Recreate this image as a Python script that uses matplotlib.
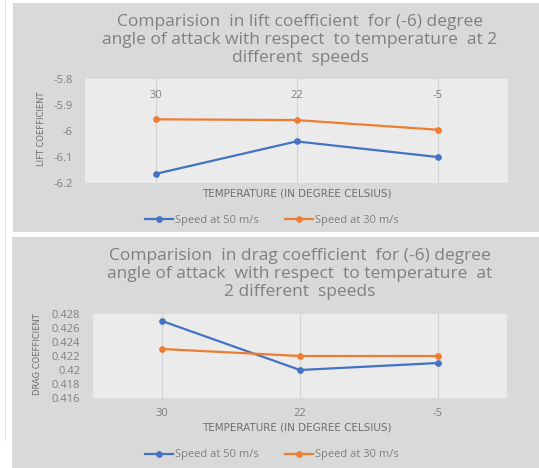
#!/usr/bin/env python3
"""
升力/阻力系数随温度变化对比图 (两种速度)
"""

import matplotlib.pyplot as plt
from matplotlib.patches import Rectangle
from matplotlib.lines import Line2D

plt.rcParams['font.family'] = ['Open Sans', 'DejaVu Sans']

# 数据
temperatures = ['30', '22', '-5']
lift_50 = [-6.165, -6.04, -6.10]
lift_30 = [-5.955, -5.958, -5.995]
drag_50 = [0.427, 0.420, 0.421]
drag_30 = [0.423, 0.422, 0.422]
series_labels = ['Speed at 50 m/s', 'Speed at 30 m/s']

lift_title = ('Comparision  in lift coefficient  for (-6) degree\n'
              'angle of attack with respect  to temperature  at 2\n'
              'different  speeds')
drag_title = ('Comparision  in drag coefficient  for (-6) degree\n'
              'angle of attack  with respect  to temperature  at\n'
              '2 different  speeds')

BLUE = '#4472C4'
ORANGE = '#ED7D31'
TEXT = '#808080'
PANEL = '#d9d9d9'
PLOT_BG = '#ebebeb'
NARROW = ['Liberation Sans Narrow', 'DejaVu Sans']

W, H = 539, 468
fig = plt.figure(figsize=(W / 100, H / 100), dpi=100)
fig.patch.set_facecolor('white')


def fx(px):
    return px / W


def fy(py):
    return 1 - py / H


# 两个图表背景面板
fig.add_artist(Rectangle((fx(13), fy(232)), fx(W - 13), 229 / H,
                         transform=fig.transFigure, facecolor=PANEL,
                         edgecolor='none', zorder=0))
fig.add_artist(Rectangle((fx(12), 0), fx(W - 12), 231 / H,
                         transform=fig.transFigure, facecolor=PANEL,
                         edgecolor='none', zorder=0))

# 左侧残留的坐标线
fig.add_artist(Line2D([fx(5), fx(5)], [fy(0), fy(440)],
                      transform=fig.transFigure, color='#e4e4e4', lw=0.8))


def style_axes(ax):
    ax.set_facecolor(PLOT_BG)
    for s in ax.spines.values():
        s.set_visible(False)
    ax.set_xlim(-0.5, 2.5)
    ax.grid(axis='x', color='#d2d2d2', lw=0.8)
    ax.set_axisbelow(True)
    ax.tick_params(axis='y', length=0, labelsize=8, labelcolor=TEXT, pad=9)


def add_legend(ax, y_px):
    ax.legend(series_labels, loc='center', ncol=2, frameon=False,
              bbox_to_anchor=(fx(272), fy(y_px)),
              bbox_transform=fig.transFigure, fontsize=8, labelcolor=TEXT,
              handlelength=2.5, columnspacing=2.3, handletextpad=0.2)


def side_text(x_px, y_px, s, size, rot=0):
    fig.text(fx(x_px), fy(y_px), s, ha='center', va='center', rotation=rot,
             fontsize=size, color='#6f6f6f', family=NARROW)


# 升力系数图
ax1 = fig.add_axes([fx(85), fy(183), fx(508 - 85), (183 - 79) / H])
x = range(len(temperatures))
ax1.plot(x, lift_50, color=BLUE, lw=1.6, marker='o', ms=3.8)
ax1.plot(x, lift_30, color=ORANGE, lw=1.6, marker='o', ms=3.8)
style_axes(ax1)
ax1.set_ylim(-6.2, -5.8)
ax1.set_yticks([-6.2, -6.1, -6.0, -5.9, -5.8])
ax1.set_yticklabels(['-6.2', '-6.1', '-6', '-5.9', '-5.8'])
ax1.set_xticks(list(x))
ax1.set_xticklabels(temperatures)
ax1.tick_params(axis='x', length=0, labelsize=8, labelcolor=TEXT,
                top=False, bottom=False, labeltop=True, labelbottom=False,
                pad=-16)
side_text(42, 129, 'LIFT COEFFICIENT', 6)
fig.texts[-1].set_rotation(90)
side_text(297, 193, 'TEMPERATURE (IN DEGREE CELSIUS)', 7.5)
fig.text(fx(300), fy(40), lift_title, ha='center', va='center',
         fontsize=12.5, color=TEXT, linespacing=1.16)
add_legend(ax1, 220)

# 阻力系数图
ax2 = fig.add_axes([fx(93), fy(398), fx(507 - 93), (398 - 314) / H])
ax2.plot(x, drag_50, color=BLUE, lw=1.6, marker='o', ms=3.8)
ax2.plot(x, drag_30, color=ORANGE, lw=1.6, marker='o', ms=3.8)
style_axes(ax2)
ax2.set_ylim(0.416, 0.428)
ax2.set_yticks([0.416, 0.418, 0.42, 0.422, 0.424, 0.426, 0.428])
ax2.set_yticklabels(['0.416', '0.418', '0.42', '0.422', '0.424', '0.426',
                     '0.428'])
ax2.set_xticks(list(x))
ax2.set_xticklabels(temperatures)
ax2.tick_params(axis='x', length=0, labelsize=8, labelcolor=TEXT, pad=7)
side_text(37, 354, 'DRAG COEFFICIENT', 6)
fig.texts[-1].set_rotation(90)
side_text(297, 427, 'TEMPERATURE (IN DEGREE CELSIUS)', 7.5)
fig.text(fx(300), fy(274), drag_title, ha='center', va='center',
         fontsize=12.5, color=TEXT, linespacing=1.16)
add_legend(ax2, 455)

fig.savefig('out.png', dpi=100)
